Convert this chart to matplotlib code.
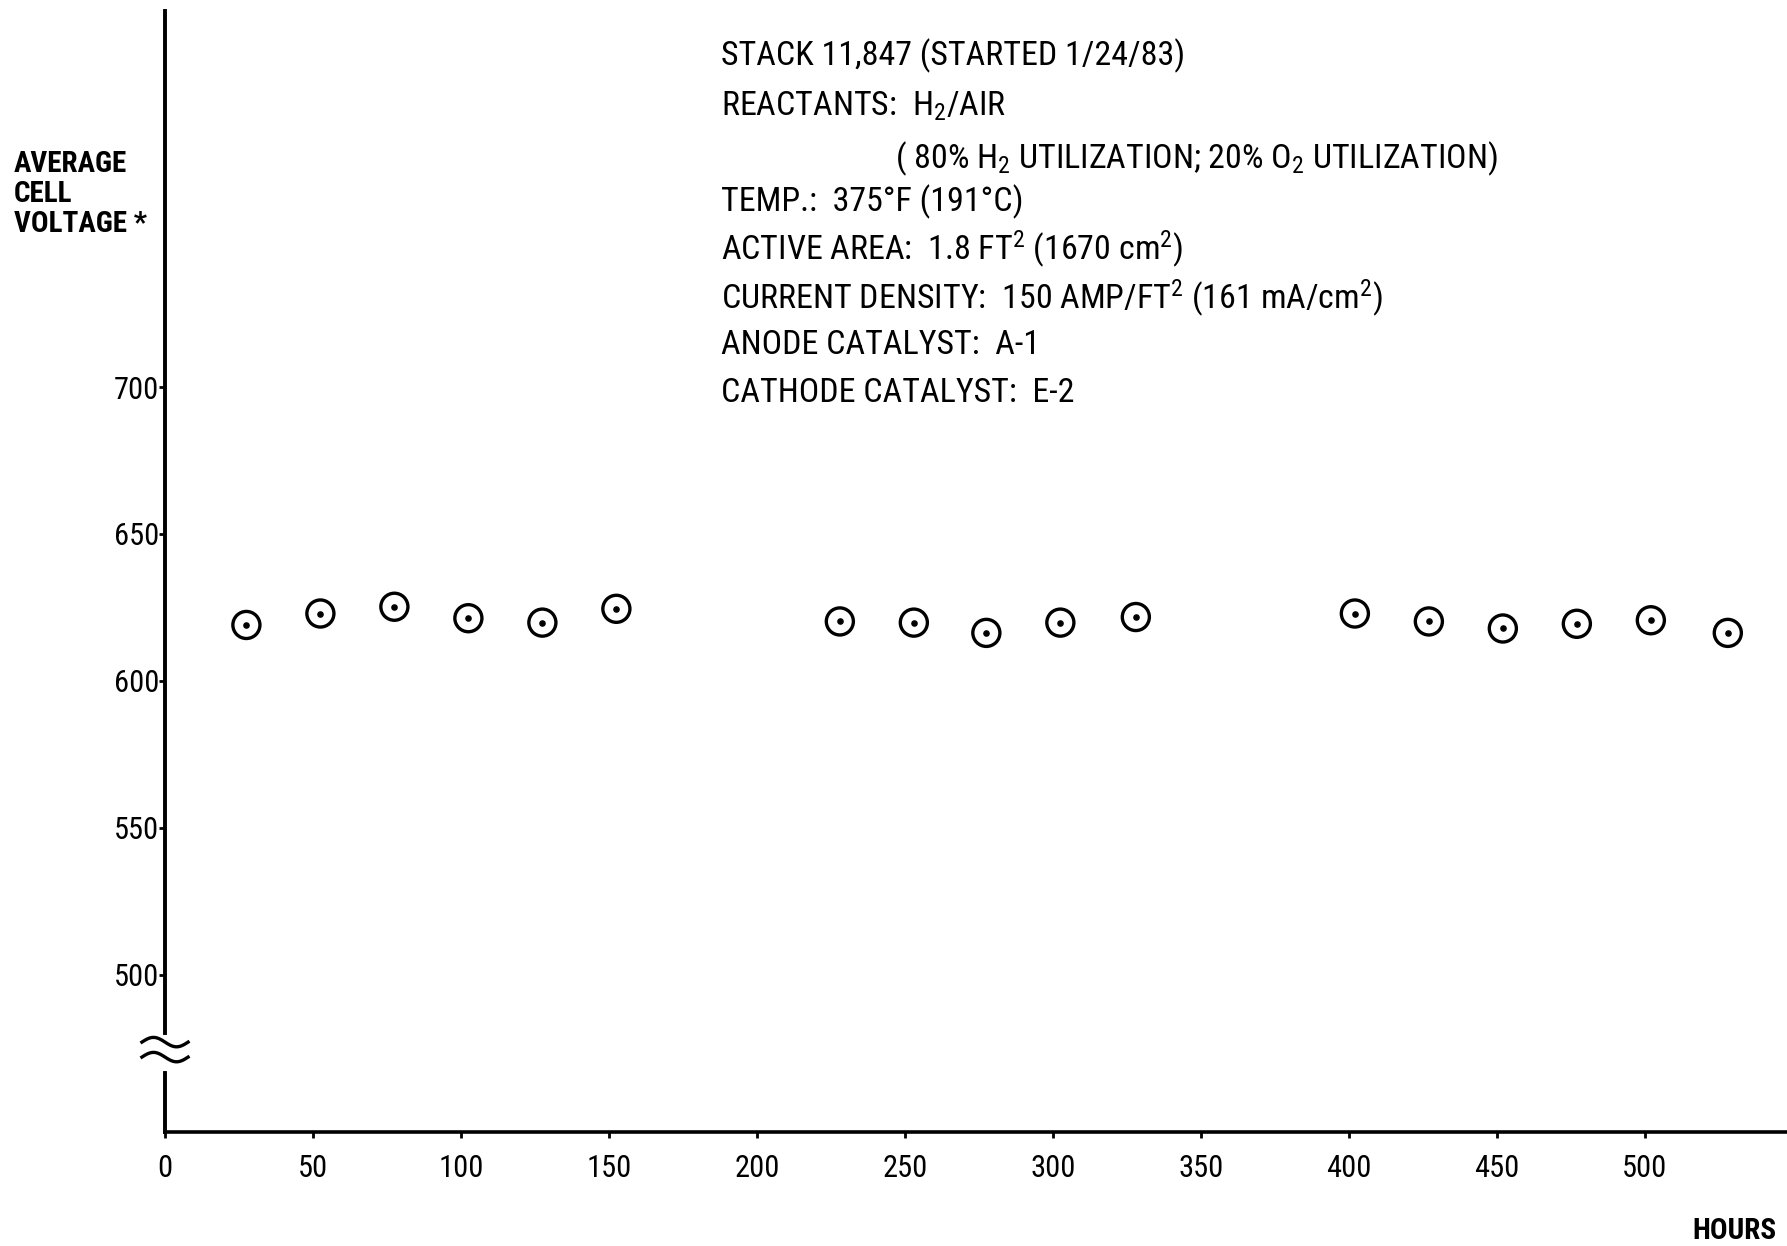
import numpy as np
import matplotlib
matplotlib.use("Agg")
from matplotlib import pyplot as plt

plt.rcParams['font.family'] = ['Roboto Condensed', 'IBM Plex Sans Condensed', 'DejaVu Sans']
plt.rcParams['mathtext.default'] = 'regular'

# cell voltage readings (mV) against hours on load
hours = [27.5, 52.5, 77.5, 102.5, 127.5, 152.5,
         228, 253, 277.5, 302.5, 328,
         402, 427, 452, 477, 502, 528]
voltage = [619.0, 622.9, 625.2, 621.3, 619.8, 624.5,
           620.2, 619.8, 616.3, 619.8, 621.7,
           622.9, 620.2, 617.8, 619.4, 620.6, 616.3]
x_ticks = [0, 50, 100, 150, 200, 250, 300, 350, 400, 450, 500]
y_ticks = [500, 550, 600, 650, 700]

info_lines = [
    'STACK 11,847 (STARTED 1/24/83)',
    'REACTANTS:  H$_2$/AIR',
    '( 80% H$_2$ UTILIZATION; 20% O$_2$ UTILIZATION)',
    'TEMP.:  375°F (191°C)',
    'ACTIVE AREA:  1.8 FT$^2$ (1670 cm$^2$)',
    'CURRENT DENSITY:  150 AMP/FT$^2$ (161 mA/cm$^2$)',
    'ANODE CATALYST:  A-1',
    'CATHODE CATALYST:  E-2',
]

W, H = 1787, 1246
fig = plt.figure(figsize=(W / 100, H / 100), dpi=100)
ax = fig.add_axes([165 / W, 1 - 1132 / H, 1 - 165 / W, (1132 - 11) / H])
ax.set_xlim(0, 548)
ax.set_ylim(446.4, 828)

for s in ['top', 'right', 'left']:
    ax.spines[s].set_visible(False)
ax.spines['bottom'].set_linewidth(2.6)

# broken y axis drawn by hand
ax.plot([0, 0], [446.4, 466.5], color='black', lw=2.8, clip_on=False)
ax.plot([0, 0], [480.1, 828], color='black', lw=2.8, clip_on=False)
t = np.linspace(-7.8, 7.8, 50)
for yc in [477.0, 471.9]:
    ax.plot(t, yc - 1.6 * np.sin(t / 7.8 * np.pi), color='black', lw=2.4, clip_on=False)

ax.scatter(hours, voltage, s=380, facecolors='none', edgecolors='black', linewidths=2.4, zorder=3)
ax.scatter(hours, voltage, s=14, color='black', zorder=3)

ax.set_xticks(x_ticks)
ax.set_yticks(y_ticks)
ax.tick_params(axis='x', direction='out', length=4, width=2, pad=12, labelsize=22)
ax.tick_params(axis='y', direction='out', length=4, width=2, pad=0, labelsize=22)

fig.text(14 / W, 1 - 194 / H, 'AVERAGE\nCELL\nVOLTAGE *', fontsize=21, fontweight='bold',
         va='center', ha='left', linespacing=1.1)
fig.text(1777 / W, 1 - 1231 / H, 'HOURS', fontsize=21, fontweight='bold', ha='right', va='center')

baselines = [65, 116, 168, 211, 260, 309, 354, 402]
for i, line in enumerate(info_lines):
    x0 = 895 if i == 2 else 721
    fig.text(x0 / W, 1 - baselines[i] / H, line, fontsize=24.5, ha='left', va='baseline')

fig.savefig('out.png', dpi=100)
